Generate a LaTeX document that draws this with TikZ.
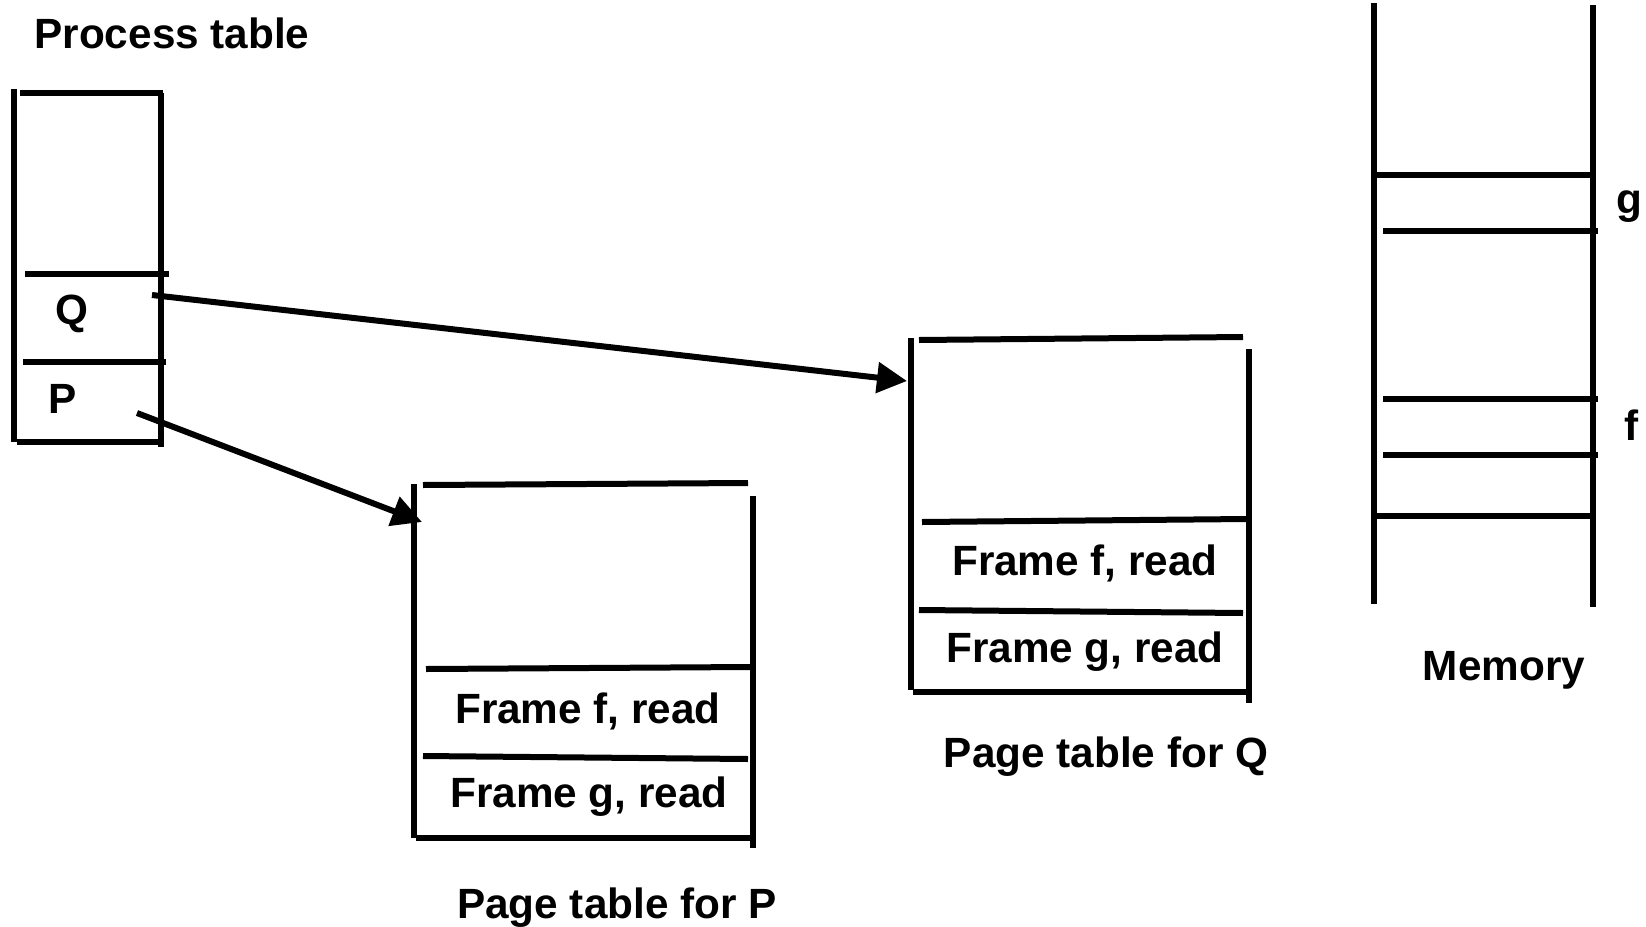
\documentclass[tikz,border=0pt]{standalone}
\usepackage{fontspec}
\setmainfont{Liberation Sans}
\usetikzlibrary{arrows.meta}
\begin{document}
\begin{tikzpicture}[x=0.5pt,y=-0.5pt,
  rule/.style={line width=3pt,line cap=butt},
  link/.style={line width=3pt,-{Triangle[length=15pt,width=15pt]}},
  lbl/.style={inner sep=0pt,anchor=base,font=\fontsize{21.15pt}{25pt}\selectfont\bfseries}]
\useasboundingbox (0,0) rectangle (1646,927);
% Process table
\node[lbl] (ptitle) at (172,48) {Process table};
\draw[rule] (14,89) -- (14,442);
\draw[rule] (20,93) -- (163,93);
\draw[rule] (161,93) -- (161,447);
\draw[rule] (25,274) -- (169,274);
\draw[rule] (23,362) -- (166,362);
\draw[rule] (17,442) -- (161,442);
\node[lbl] (q) at (72,324) {Q};
\node[lbl] (p) at (63,413) {P};
% Page table for P
\draw[rule] (414,484) -- (414,838);
\draw[rule] (423,485) -- (748,483);
\draw[rule] (753,496) -- (753,848);
\draw[rule] (426,669) -- (750,667);
\draw[rule] (423,756) -- (748,759);
\draw[rule] (416,838) -- (750,838);
\node[lbl] (pf) at (588,723) {Frame f, read};
\node[lbl] (pg) at (589,807) {Frame g, read};
\node[lbl] (ptp) at (617,918) {Page table for P};
% Page table for Q
\draw[rule] (911,338) -- (911,690);
\draw[rule] (919,340) -- (1243,337);
\draw[rule] (1249,349) -- (1249,703);
\draw[rule] (922,522) -- (1247,519);
\draw[rule] (919,610) -- (1243,613);
\draw[rule] (913,692) -- (1247,692);
\node[lbl] (qf) at (1085,575) {Frame f, read};
\node[lbl] (qg) at (1085,662) {Frame g, read};
\node[lbl] (ptq) at (1106,767) {Page table for Q};
% Memory
\draw[rule] (1374,3) -- (1374,604);
\draw[rule] (1593,5) -- (1593,607);
\draw[rule] (1374,175) -- (1593,175);
\draw[rule] (1383,231) -- (1598,231);
\draw[rule] (1383,399) -- (1598,399);
\draw[rule] (1383,455) -- (1598,455);
\draw[rule] (1374,516) -- (1593,516);
\node[lbl] (mg) at (1629,213) {g};
\node[lbl] (mf) at (1632,440) {f};
\node[lbl] (mem) at (1504,680) {Memory};
% Arrows
\coordinate (qs) at (152,295);
\coordinate (qe) at (907,381);
\coordinate (ps) at (137,413);
\coordinate (pe) at (422,522);
\draw[link] (qs) -- (qe);
\draw[link] (ps) -- (pe);
\end{tikzpicture}
\end{document}
